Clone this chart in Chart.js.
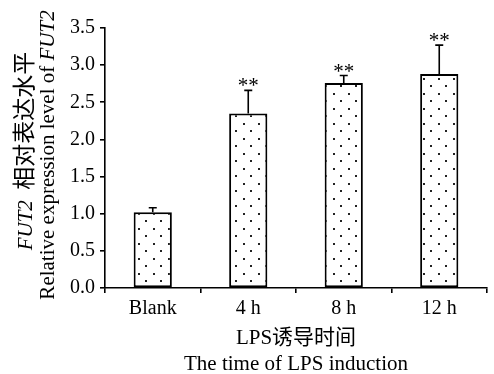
<!DOCTYPE html>
<html>
<head>
<meta charset="utf-8">
<script src="https://cdn.jsdelivr.net/npm/chart.js@4.4.1/dist/chart.umd.min.js"></script>
<style>
  html, body { margin: 0; padding: 0; background: #fff; }
  #wrap { width: 494px; height: 374px; }
</style>
</head>
<body>
<div id="wrap"><canvas id="c" width="494" height="374"></canvas></div>
<script>
// ---- data ----
const categories = ['Blank', '4 h', '8 h', '12 h'];
const means = [1.02, 2.35, 2.76, 2.88];
const errors = [0.06, 0.31, 0.10, 0.39];
const marks = ['', '**', '**', '**'];
const yMin = 0, yMax = 3.5, yStep = 0.5;
const xTitleLines = ['LPS诱导时间', 'The time of LPS induction'];
const yTitleLine1 = [{ t: 'FUT2', italic: true }, { t: '  ', italic: false }, { t: '相对表达水平', italic: false, size: 23 }];
const yTitleLine2 = [{ t: 'Relative expression level of ', italic: false }, { t: 'FUT2', italic: true }];

const SERIF = '"Liberation Serif", "Times New Roman", "Noto Sans CJK SC", serif';
const TICK_SIZE = 20, TITLE_SIZE = 21;

// dotted fill pattern
function makePattern() {
  const s = 15;
  const pc = document.createElement('canvas');
  pc.width = s; pc.height = s;
  const p = pc.getContext('2d');
  p.fillStyle = '#ffffff';
  p.fillRect(0, 0, s, s);
  p.fillStyle = '#222222';
  p.fillRect(3, 3, 2, 2);
  p.fillRect(10, 10, 2, 2);
  return p.createPattern(pc, 'repeat');
}

const overlay = {
  id: 'overlay',
  afterDatasetsDraw(chart) {
    const ctx = chart.ctx;
    const ys = chart.scales.y;
    const meta = chart.getDatasetMeta(0);
    ctx.save();
    ctx.strokeStyle = '#000';
    ctx.lineWidth = 1.6;
    meta.data.forEach((bar, i) => {
      const x = bar.x;
      const y0 = ys.getPixelForValue(means[i]);
      const y1 = ys.getPixelForValue(means[i] + errors[i]);
      ctx.beginPath();
      ctx.moveTo(x, y0);
      ctx.lineTo(x, y1);
      ctx.moveTo(x - 4, y1);
      ctx.lineTo(x + 4, y1);
      ctx.stroke();
      if (marks[i]) {
        ctx.fillStyle = '#000';
        ctx.font = TITLE_SIZE + 'px ' + SERIF;
        ctx.textAlign = 'center';
        ctx.textBaseline = 'alphabetic';
        ctx.fillText(marks[i], x, y1 + 2);
      }
    });
    ctx.restore();
  },
  afterDraw(chart) {
    const ctx = chart.ctx;
    const area = chart.chartArea;
    ctx.save();
    ctx.fillStyle = '#000';
    const cx = (area.left + area.right) / 2;
    ctx.font = TITLE_SIZE + 'px ' + SERIF;
    ctx.textAlign = 'center';
    ctx.textBaseline = 'alphabetic';
    ctx.fillText(xTitleLines[0], cx, 344);
    ctx.fillText(xTitleLines[1], cx, 370);
    function fontOf(p) {
      return (p.italic ? 'italic ' : '') + (p.size || TITLE_SIZE) + 'px ' + SERIF;
    }
    function drawMixed(parts, bx, cy) {
      ctx.save();
      ctx.translate(bx, cy);
      ctx.rotate(-Math.PI / 2);
      ctx.textAlign = 'left';
      ctx.textBaseline = 'alphabetic';
      let total = 0;
      const widths = parts.map(p => {
        ctx.font = fontOf(p);
        const w = ctx.measureText(p.t).width;
        total += w;
        return w;
      });
      let x = -total / 2;
      parts.forEach((p, i) => {
        ctx.font = fontOf(p);
        ctx.fillText(p.t, x, 0);
        x += widths[i];
      });
      ctx.restore();
    }
    drawMixed(yTitleLine1, 32, 151);
    drawMixed(yTitleLine2, 54, 155);
    ctx.restore();
  }
};

const chart = new Chart(document.getElementById('c'), {
  type: 'bar',
  data: {
    labels: categories,
    datasets: [{
      data: means,
      backgroundColor: makePattern(),
      borderColor: '#000',
      borderWidth: 2,
      borderSkipped: false,
      barPercentage: 0.4,
      categoryPercentage: 1.0
    }]
  },
  options: {
    responsive: false,
    animation: false,
    devicePixelRatio: 1,
    layout: { padding: { top: 28, right: 7, left: 0, bottom: 0 } },
    plugins: { legend: { display: false }, tooltip: { enabled: false }, title: { display: false } },
    scales: {
      x: {
        offset: true,
        grid: { offset: true, drawOnChartArea: false, tickLength: 5, color: '#000', lineWidth: 1.6 },
        border: { color: '#000', width: 1.6 },
        ticks: { color: '#000', font: { family: SERIF, size: TICK_SIZE }, padding: 4, maxRotation: 0 },
        afterFit(s) { s.height = 86; }
      },
      y: {
        min: yMin, max: yMax,
        grid: { drawOnChartArea: false, tickLength: 5, color: '#000', lineWidth: 1.6 },
        border: { color: '#000', width: 1.6 },
        ticks: { stepSize: yStep, color: '#000', font: { family: SERIF, size: TICK_SIZE }, padding: 5,
                 callback: v => Number(v).toFixed(1) },
        afterFit(s) { s.width = 105; }
      }
    }
  },
  plugins: [overlay]
});
</script>
</body>
</html>
